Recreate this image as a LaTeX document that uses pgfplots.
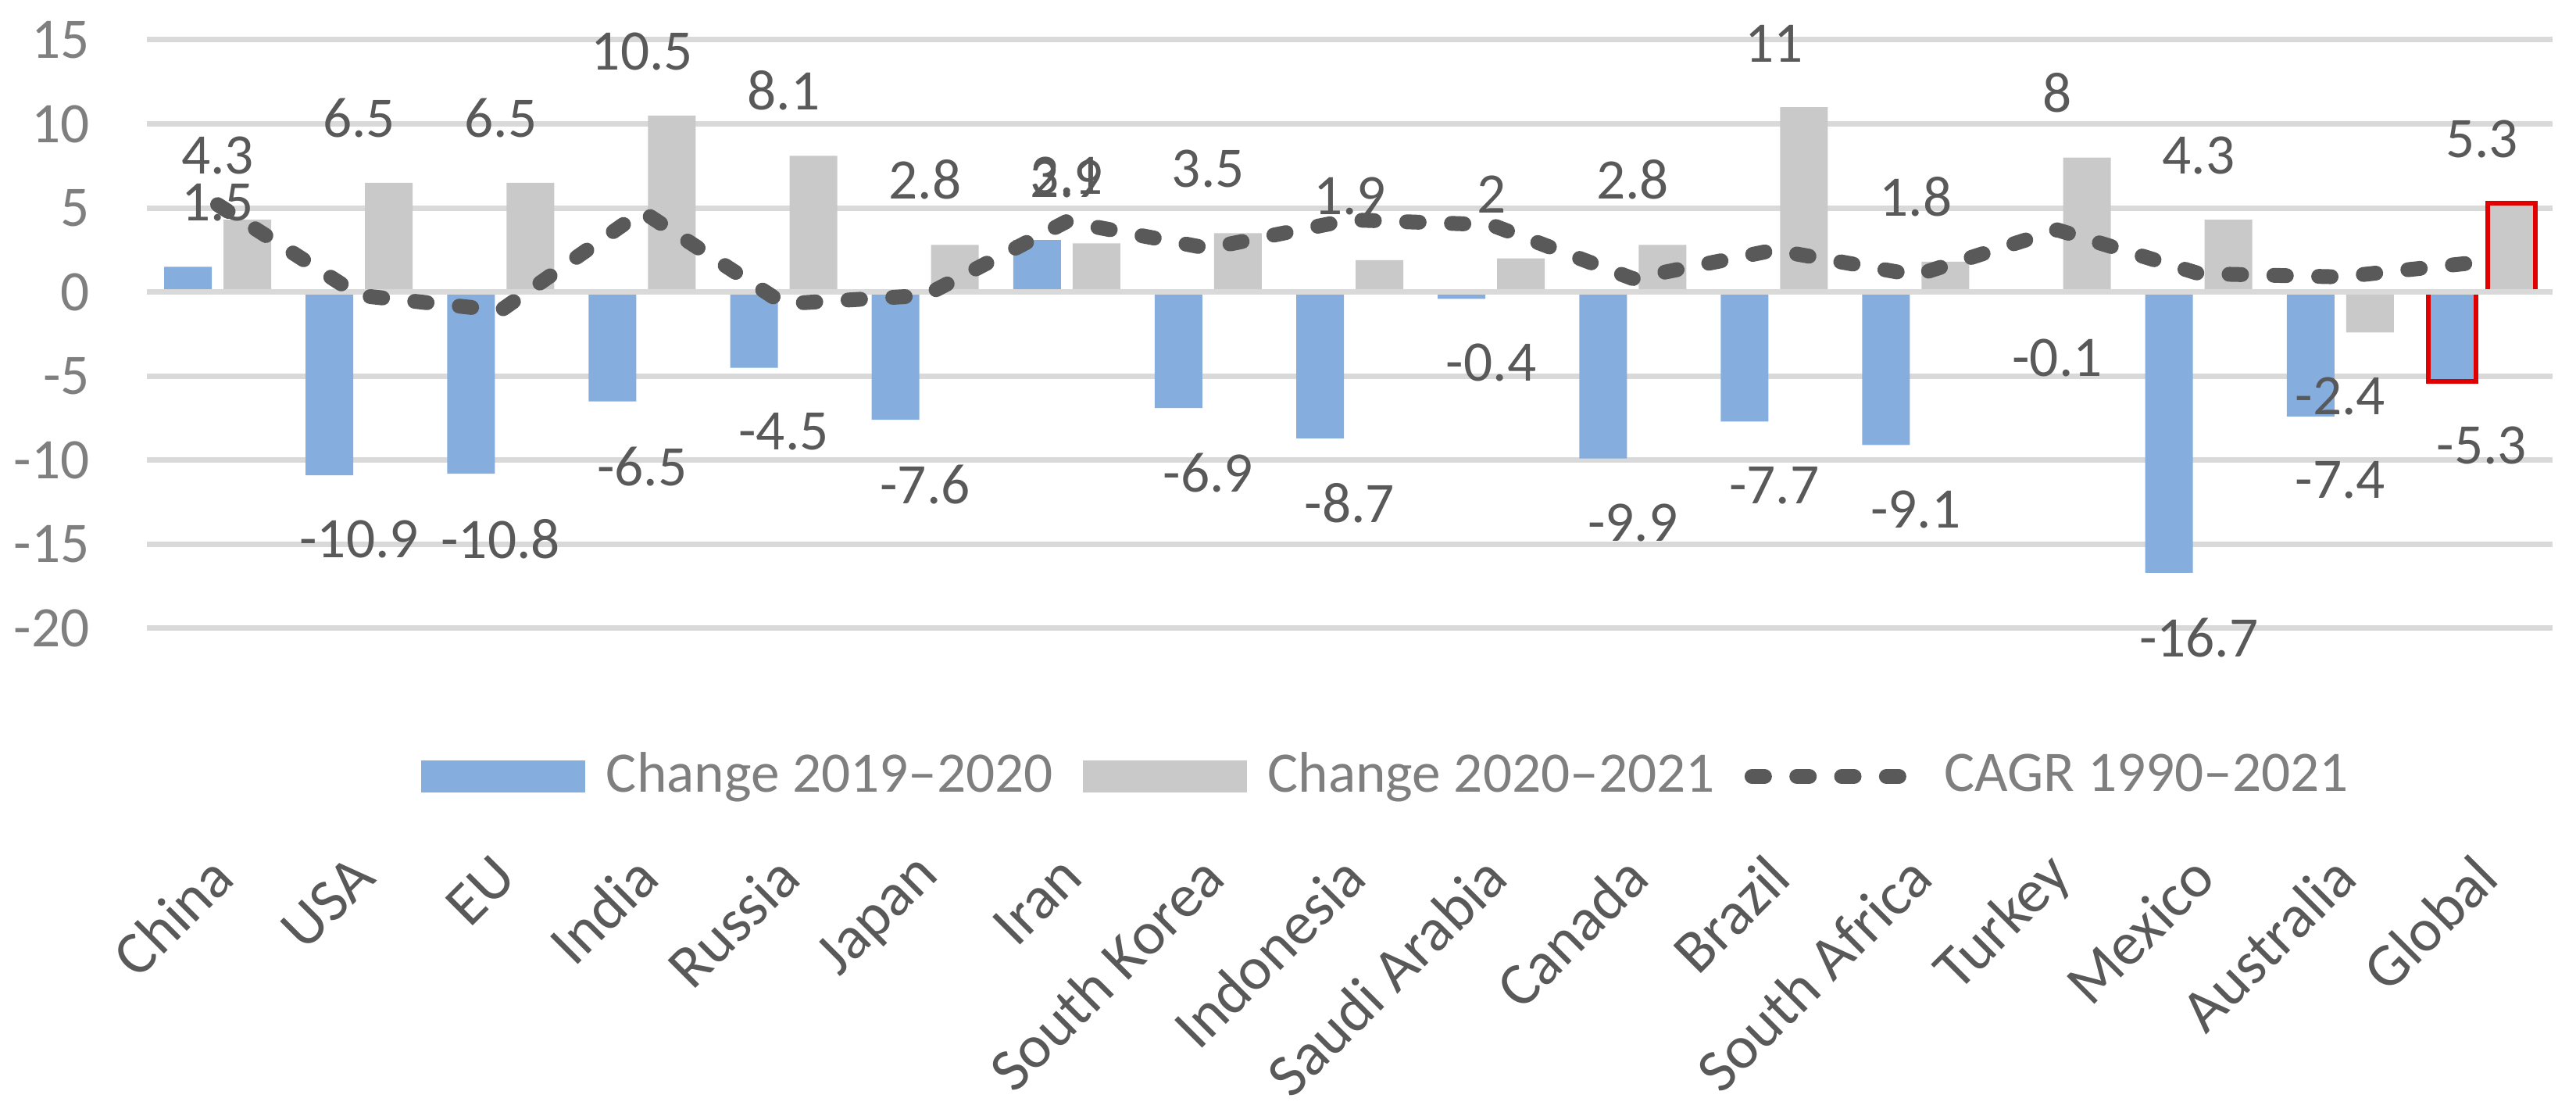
\documentclass[border=0pt]{standalone}
\usepackage{fontspec}
\setmainfont{Carlito}
\usepackage{pgfplots}
\pgfplotsset{compat=1.18}

\definecolor{cblue}{HTML}{85ADDE}
\definecolor{cgrey}{HTML}{C9C9C9}
\definecolor{cline}{HTML}{595959}
\definecolor{cgrid}{HTML}{D9D9D9}
\definecolor{ctick}{HTML}{7F7F7F}
\definecolor{clabel}{HTML}{595959}
\definecolor{cred}{HTML}{E00000}

\pgfplotsset{
  barleg/.style={legend image code/.code={\path (-5.7pt,0pt) (35.5pt,0pt);
    \fill[##1, draw=none] (0pt,-3.07pt) rectangle (31.5pt,3.07pt);}},
  lineleg/.style={legend image code/.code={\path (-5.7pt,0pt) (35.5pt,0pt);
    \draw[##1] (0pt,0pt) -- (31.5pt,0pt);}},
}

\begin{document}
\begin{tikzpicture}
\path[use as bounding box] (-28.2pt,-92.25pt) rectangle (466.35pt,120.6pt);
\begin{axis}[
  at={(0,0)}, anchor=south west,
  scale only axis, width=461.85pt, height=112.95pt,
  xmin=-0.5, xmax=16.5, ymin=-20, ymax=15,
  ytick={-20,-15,...,15},
  xtick={0,...,16},
  xticklabels={China, USA, EU, India, Russia, Japan, Iran, South Korea, Indonesia,
    Saudi Arabia, Canada, Brazil, South Africa, Turkey, Mexico, Australia, Global},
  axis line style={draw=none},
  major tick length=0pt,
  ymajorgrids, grid style={cgrid, line width=1.05pt},
  /pgf/number format/assume math mode=true,
  tick label style={font=\fontsize{11}{13}\selectfont},
  yticklabel style={text=ctick, inner xsep=0pt, xshift=-10.8pt},
  xticklabel style={text=clabel, font=\fontsize{11.7}{14}\selectfont,
    xshift=1pt, yshift=-45.6pt, rotate=45, anchor=east, inner sep=0pt},
  legend style={at={(0.5085,-0.2517)}, anchor=center, legend columns=-1,
    draw=none, fill=none, inner sep=0pt, text=ctick,
    font=\fontsize{11}{13}\selectfont, nodes={inner sep=0pt}},
  legend cell align=left,
  nodes near coords align={vertical},
  every node near coord/.append style={font=\fontsize{11}{13}\selectfont,
    text=clabel, inner ysep=8.5pt, inner xsep=0pt},
]
% Change 2019-2020
\addplot[ybar, bar width=9.15pt, bar shift=-5.7pt, fill=cblue, draw=none,
  nodes near coords, barleg]
  coordinates {(0,1.5) (1,-10.9) (2,-10.8) (3,-6.5) (4,-4.5) (5,-7.6) (6,3.1)
  (7,-6.9) (8,-8.7) (9,-0.4) (10,-9.9) (11,-7.7) (12,-9.1) (13,-0.1)
  (14,-16.7) (15,-7.4) (16,-5.3)};
\addlegendentry{Change 2019–2020}
% Change 2020-2021
\addplot[ybar, bar width=9.15pt, bar shift=5.7pt, fill=cgrey, draw=none,
  nodes near coords, barleg]
  coordinates {(0,4.3) (1,6.5) (2,6.5) (3,10.5) (4,8.1) (5,2.8) (6,2.9)
  (7,3.5) (8,1.9) (9,2) (10,2.8) (11,11) (12,1.8) (13,8)
  (14,4.3) (15,-2.4) (16,5.3)};
\addlegendentry{Change 2020–2021}
% red frames round the global bars
\addplot[ybar, bar width=9.15pt, bar shift=-5.7pt, fill=none, draw=cred,
  line width=0.9pt, forget plot] coordinates {(16,-5.3)};
\addplot[ybar, bar width=9.15pt, bar shift=5.7pt, fill=none, draw=cred,
  line width=0.9pt, forget plot] coordinates {(16,5.3)};
% zero line over the bars
\addplot[forget plot, cgrid, line width=1.05pt, no marks]
  coordinates {(-0.5,0) (16.5,0)};
% CAGR 1990-2021
\addplot[cline, line width=2.85pt, dash pattern=on 2.4pt off 6.2pt,
  line cap=round, line join=round, no marks, sharp plot, lineleg]
  coordinates {(0,5.2) (1,-0.2) (2,-1.1) (3,4.8) (4,-0.7) (5,-0.2) (6,4.2)
  (7,2.6) (8,4.3) (9,4.0) (10,0.8) (11,2.5) (12,1.0) (13,3.7)
  (14,1.1) (15,0.9) (16,1.8)};
\addlegendentry{CAGR 1990–2021}
\end{axis}
\end{tikzpicture}
\end{document}
